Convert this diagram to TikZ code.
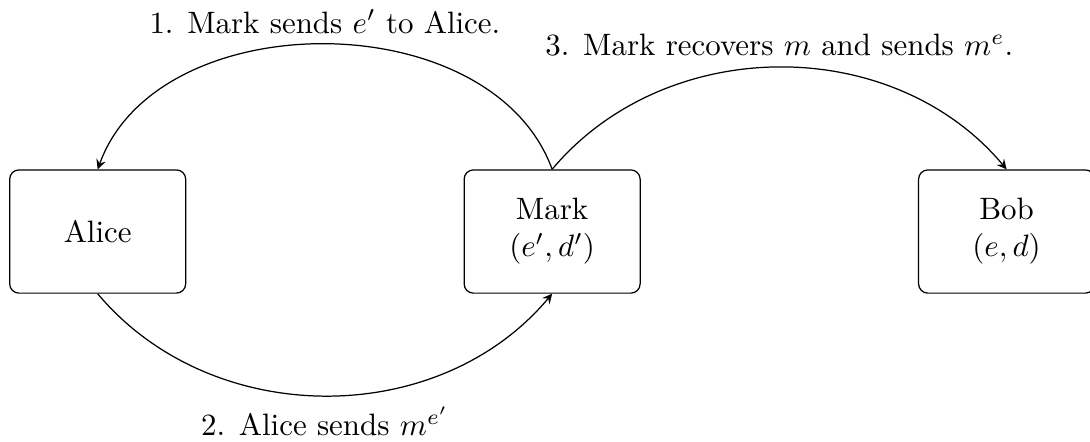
\documentclass[tikz,border=0pt]{standalone}
\usetikzlibrary{arrows,positioning}

\begin{document}
\begin{tikzpicture}[node distance=3.15cm,
      party/.style={draw, rounded corners=3pt, align=center,
                    minimum width=2cm, minimum height=1.4cm},
      msg/.style={-stealth}]
    \useasboundingbox (-1.110,-2.381) rectangle (11.276,2.631);
    \node[party] (alice) {Alice};
    \node[party, right=of alice] (mark) {Mark\\$(e',d')$};
    \node[party, right=of mark] (bob) {Bob\\$(e,d)$};
    \draw[msg] (mark.north) to[bend right=70]
        node[above] {1. Mark sends $e'$ to Alice.} (alice.north);
    \draw[msg] (alice.south) to[bend right=50]
        node[below] {2. Alice sends $m^{e'}$} (mark.south);
    \draw[msg] (mark.north) to[bend left=50]
        node[above] {3. Mark recovers $m$ and sends $m^e$.} (bob.north);
  \end{tikzpicture}
\end{document}
